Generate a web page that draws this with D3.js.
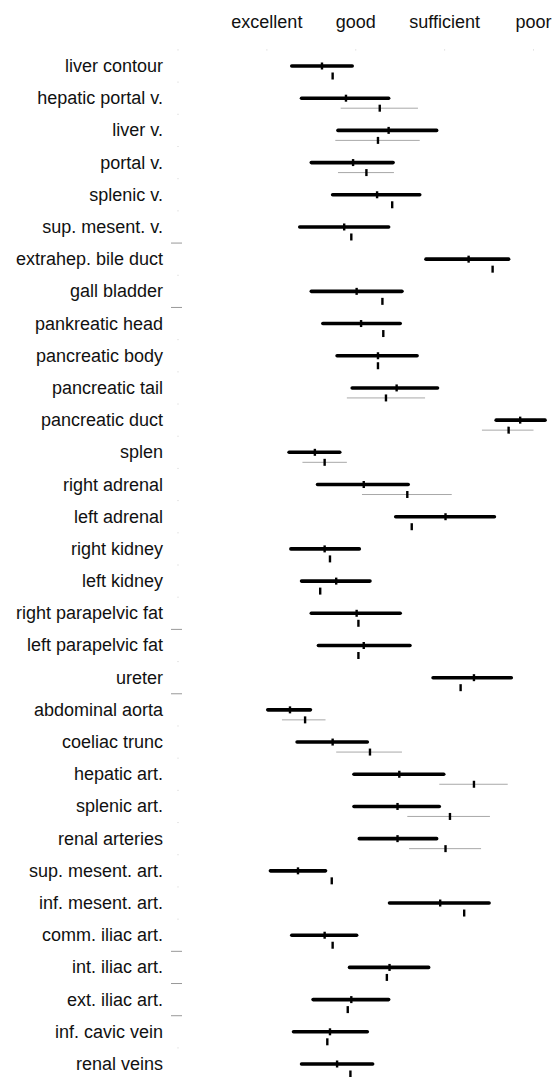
<!DOCTYPE html>
<html>
<head>
<meta charset="utf-8">
<script src="https://cdn.jsdelivr.net/npm/d3@7"></script>
<style>
  body { margin: 0; background: #fff; }
  text { font-family: "Liberation Sans", Arial, sans-serif; fill: #111; }
</style>
</head>
<body>
<svg id="chart" width="554" height="1077"></svg>
<script>
// rating scale
const ratings = ['excellent', 'good', 'sufficient', 'poor'];

const structures = [
  'liver contour', 'hepatic portal v.', 'liver v.', 'portal v.', 'splenic v.',
  'sup. mesent. v.', 'extrahep. bile duct', 'gall bladder', 'pankreatic head',
  'pancreatic body', 'pancreatic tail', 'pancreatic duct', 'splen',
  'right adrenal', 'left adrenal', 'right kidney', 'left kidney',
  'right parapelvic fat', 'left parapelvic fat', 'ureter', 'abdominal aorta',
  'coeliac trunc', 'hepatic art.', 'splenic art.', 'renal arteries',
  'sup. mesent. art.', 'inf. mesent. art.', 'comm. iliac art.',
  'int. iliac art.', 'ext. iliac art.', 'inf. cavic vein', 'renal veins'
];

// first series: interval low / high and mean
const lowA  = [1.28, 1.39, 1.80, 1.50, 1.74, 1.37, 2.79, 1.50, 1.63, 1.79, 1.96, 3.58, 1.25, 1.57, 2.45, 1.27,
               1.39, 1.50, 1.58, 2.87, 1.01, 1.34, 1.98, 1.98, 2.04, 1.04, 2.38, 1.28, 1.93, 1.52, 1.30, 1.39];
const highA = [1.96, 2.37, 2.91, 2.42, 2.72, 2.37, 3.72, 2.52, 2.50, 2.69, 2.92, 4.13, 1.82, 2.59, 3.56, 2.04,
               2.16, 2.50, 2.61, 3.75, 1.49, 2.13, 2.99, 2.94, 2.91, 1.66, 3.50, 2.01, 2.82, 2.37, 2.13, 2.19];
const meanA = [1.62, 1.89, 2.37, 1.97, 2.24, 1.87, 3.27, 2.01, 2.06, 2.25, 2.46, 3.85, 1.54, 2.09, 3.01, 1.65,
               1.78, 2.01, 2.09, 3.33, 1.26, 1.74, 2.49, 2.47, 2.47, 1.35, 2.95, 1.65, 2.38, 1.95, 1.71, 1.79];

// second series: mean, with interval where present (null = none)
const meanB = [1.74, 2.27, 2.25, 2.12, 2.41, 1.95, 3.54, 2.30, 2.31, 2.25, 2.34, 3.72, 1.65, 2.58, 2.63, 1.71,
               1.60, 2.03, 2.03, 3.18, 1.43, 2.16, 3.33, 3.06, 3.01, 1.73, 3.22, 1.74, 2.35, 1.91, 1.68, 1.94];
const lowB  = [null, 1.83, 1.77, 1.80, null, null, null, null, null, null, 1.90, 3.42, 1.40, 2.07, null, null,
               null, null, null, null, 1.17, 1.78, 2.94, 2.58, 2.60, null, null, null, null, null, null, null];
const highB = [null, 2.70, 2.72, 2.43, null, null, null, null, null, null, 2.78, 4.00, 1.90, 3.08, null, null,
               null, null, null, null, 1.66, 2.52, 3.71, 3.51, 3.41, null, null, null, null, null, null, null];

// rows after which a group separator is drawn
const groupBreaks = [5, 7, 17, 19, 27, 28, 29];

const svg = d3.select('#chart');

const x = d3.scaleLinear()
    .domain([0, 4])
    .range([178, 533.5]);

const y = d3.scalePoint()
    .domain(structures)
    .range([66, 1064]);

const step = y.step();
const boundary = i => y(structures[0]) - step / 2 + i * step;

// header labels
svg.append('g')
  .selectAll('text')
  .data(ratings)
  .join('text')
    .attr('x', (d, i) => x(i + 1))
    .attr('y', 28)
    .attr('text-anchor', 'middle')
    .attr('font-size', 18)
    .text(d => d);

// faint tick dots along the top
svg.append('g')
  .selectAll('rect')
  .data(d3.range(0, 5))
  .join('rect')
    .attr('x', d => x(d) - 0.5)
    .attr('y', boundary(0) - 0.5)
    .attr('width', 1)
    .attr('height', 1)
    .attr('fill', '#d0d0d0');

// faint dots / separators on the left
svg.append('g')
  .selectAll('rect')
  .data(d3.range(1, structures.length))
  .join('rect')
    .attr('x', i => groupBreaks.includes(i - 1) ? 171 : x(0) - 0.5)
    .attr('y', i => boundary(i) - 0.5)
    .attr('width', i => groupBreaks.includes(i - 1) ? 11 : 1)
    .attr('height', 1)
    .attr('fill', i => groupBreaks.includes(i - 1) ? '#999' : '#d0d0d0');

// row labels
svg.append('g')
  .selectAll('text')
  .data(structures)
  .join('text')
    .attr('x', 163)
    .attr('y', d => y(d) + 6)
    .attr('text-anchor', 'end')
    .attr('font-size', 18)
    .text(d => d);

const rows = svg.append('g')
  .selectAll('g')
  .data(structures.map((name, i) => ({
    name, lo: lowA[i], hi: highA[i], mean: meanA[i],
    meanB: meanB[i], loB: lowB[i], hiB: highB[i]
  })))
  .join('g')
    .attr('transform', d => `translate(0, ${y(d.name)})`);

// second series interval (thin gray)
rows.filter(d => d.loB !== null)
  .append('line')
    .attr('x1', d => x(d.loB))
    .attr('x2', d => x(d.hiB))
    .attr('y1', 10)
    .attr('y2', 10)
    .attr('stroke', '#a8a8a8')
    .attr('stroke-width', 1);

// second series mean tick
rows.append('line')
    .attr('x1', d => x(d.meanB))
    .attr('x2', d => x(d.meanB))
    .attr('y1', 6.5)
    .attr('y2', 13.5)
    .attr('stroke', '#000')
    .attr('stroke-width', 2.4);

// first series interval (thick)
rows.append('line')
    .attr('x1', d => x(d.lo))
    .attr('x2', d => x(d.hi))
    .attr('y1', 0)
    .attr('y2', 0)
    .attr('stroke', '#000')
    .attr('stroke-width', 3.6)
    .attr('stroke-linecap', 'round');

// first series mean tick
rows.append('line')
    .attr('x1', d => x(d.mean))
    .attr('x2', d => x(d.mean))
    .attr('y1', -3.5)
    .attr('y2', 3.5)
    .attr('stroke', '#000')
    .attr('stroke-width', 2.4);
</script>
</body>
</html>
